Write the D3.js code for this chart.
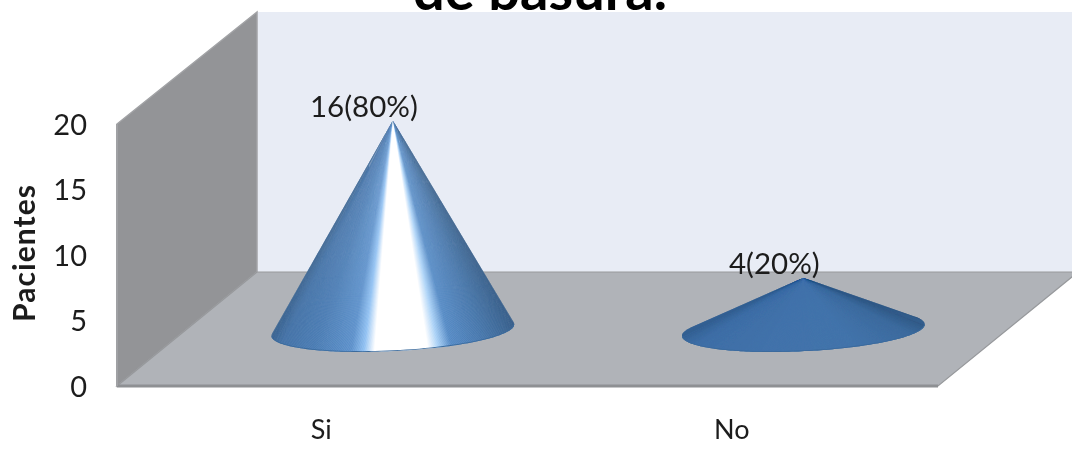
<!DOCTYPE html>
<html><head><meta charset="utf-8">
<script src="https://cdn.jsdelivr.net/npm/d3@7"></script>
<style>html,body{margin:0;padding:0;background:#fff;overflow:hidden}svg{display:block}text{font-family:Lato,"Open Sans",sans-serif;fill:#1c1c1c}</style>
</head><body><svg id="c" width="1072" height="449"></svg>
<script>
const categories = ["Si", "No"];
const values = [16, 4];
const percents = [80, 20];
const yTicks = [0, 5, 10, 15, 20];
const titleText = "de basura.";
const yTitle = "Pacientes";

const W = 1072, H = 449;
const svg = d3.select("#c");
const defs = svg.append("defs");
const blur = defs.append("filter").attr("id", "soft").attr("x", "-5%").attr("y", "-5%").attr("width", "110%").attr("height", "110%");
blur.append("feGaussianBlur").attr("stdDeviation", 0.6);
const root = svg.append("g").attr("filter", "url(#soft)");

const x = d3.scaleBand().domain(categories).range([117, 938]);
const y = d3.scaleLinear().domain([0, 20]).range([386, 124]);
const depthX = 140, depthY = -114, backTop = 12;

// walls
const poly = pts => "M" + pts.map(p => p.join(",")).join("L") + "Z";
const x0 = x.range()[0], x1 = x.range()[1], y0 = y(0), yT = y(20);
root.append("path").attr("d", poly([[x0 + depthX, backTop], [W + 4, backTop], [W + 4, y0 + depthY], [x0 + depthX, y0 + depthY]])).attr("fill", "#e8ecf5");
root.append("path").attr("d", poly([[x0, yT], [x0 + depthX, backTop], [x0 + depthX, y0 + depthY], [x0, y0]])).attr("fill", "#939497").attr("stroke", "#a2a3a6").attr("stroke-width", 1.5);
root.append("path").attr("d", poly([[x0, y0], [x1, y0], [x1 + depthX, y0 + depthY], [x0 + depthX, y0 + depthY]])).attr("fill", "#b0b3b8").attr("stroke", "#97999c").attr("stroke-width", 1.2);
root.append("line").attr("x1", x0).attr("x2", x1).attr("y1", y0).attr("y2", y0).attr("stroke", "#8e9093").attr("stroke-width", 3);
root.append("line").attr("x1", x0).attr("x2", x0).attr("y1", yT).attr("y2", y0).attr("stroke", "#a0a1a4").attr("stroke-width", 2);

// cones
const rx = 121.5, ry = 21, tilt = -2.8 * Math.PI / 180, depthMid = 0.49;
const shadeSi = d3.scaleLinear()
  .domain([0, .06, .2, .34, .39, .43, .63, .67, .72, .85, 1])
  .range(["#315c8b", "#3c6ca3", "#4679b2", "#5a8fca", "#8fc0f2", "#ffffff", "#ffffff", "#a8d0f6", "#5288c4", "#4273a9", "#2e5784"]).clamp(true);
const shadeNo = d3.scaleLinear()
  .domain([0, .12, .4, .65, .88, 1])
  .range(["#335f90", "#3e6ea6", "#4373ab", "#4374ab", "#3c6a9c", "#2f5680"]).clamp(true);
const shades = [shadeSi, shadeNo];

categories.forEach((c, i) => {
  const cx = x(c) + x.bandwidth() / 2 + depthMid * depthX + 2;
  const cy = y0 + depthMid * depthY;
  const h = y0 - y(values[i]);
  const apex = [cx, cy - h];
  const pt = a => {
    const ex = rx * Math.cos(a), ey = ry * Math.sin(a);
    return [cx + ex * Math.cos(tilt) - ey * Math.sin(tilt), cy + ex * Math.sin(tilt) + ey * Math.cos(tilt)];
  };
  const ring = d3.range(240).map(k => pt(k / 240 * 2 * Math.PI));
  const hull = d3.polygonHull(ring.concat([apex]));
  const id = "cone" + i;
  defs.append("clipPath").attr("id", id).append("path").attr("d", poly(hull));
  const g = root.append("g").attr("clip-path", `url(#${id})`);
  g.append("path").attr("d", poly(hull)).attr("fill", shades[i](0.5));
  // fan of narrow wedges from the apex, shaded by where each ray meets the base axis
  const axisAt = t => {
    const ex = rx * (2 * t - 1);
    return [cx + ex * Math.cos(tilt), cy + ex * Math.sin(tilt)];
  };
  const ray = t => {
    const p = axisAt(t);
    return [apex[0] + (p[0] - apex[0]) * 3, apex[1] + (p[1] - apex[1]) * 3];
  };
  const dt = 1 / 400;
  const ts = d3.range(-0.3, 1.3, dt);
  g.selectAll("path.w").data(ts).join("path").attr("class", "w")
    .attr("d", t => poly([apex, ray(t), ray(t + dt * 1.6)]))
    .attr("fill", t => shades[i](t));
  // thin dark rim along the base
  const front = d3.range(0, 61).map(k => pt(k / 60 * Math.PI));
  g.append("path").attr("d", d3.line()(front)).attr("fill", "none").attr("stroke", "#3a6a9c").attr("stroke-width", 1.6);
  // data label
  root.append("text").attr("x", cx - 29).attr("y", cy - h - 14).attr("dy", "0.35em")
    .attr("text-anchor", "middle").attr("font-size", 29.5).text(`${values[i]}(${percents[i]}%)`);
  // category label
  root.append("text").attr("x", x(c) + x.bandwidth() / 2 - 1).attr("y", 430).attr("dy", "0.35em")
    .attr("text-anchor", "middle").attr("font-size", 27).text(c);
});

// y axis labels
const axis = d3.axisLeft(y).tickValues(yTicks).tickSize(0).tickPadding(0);
const ag = root.append("g").attr("transform", "translate(87,0)").call(axis);
ag.select(".domain").remove();
ag.selectAll("text").attr("font-size", 29).style("font-family", 'Lato,"Open Sans",sans-serif').attr("fill", "#1c1c1c").attr("dy", "0.36em");

root.append("text").attr("transform", "translate(35,253.5) rotate(-90)").attr("text-anchor", "middle")
  .attr("font-size", 30).attr("font-weight", 700).attr("textLength", 137).attr("lengthAdjust", "spacing").text(yTitle);

root.append("text").attr("x", 540).attr("y", 10).attr("text-anchor", "middle")
  .attr("font-size", 56).attr("font-weight", 700).style("fill", "#000").text(titleText);
</script></body></html>
